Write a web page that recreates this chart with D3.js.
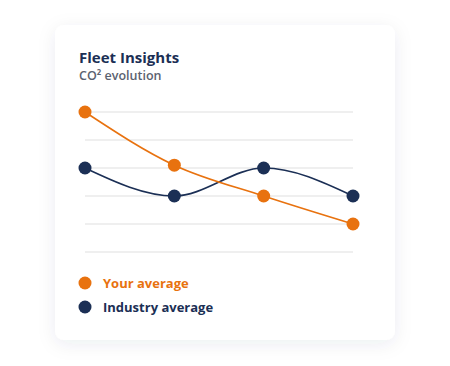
<!DOCTYPE html>
<html>
<head>
<meta charset="utf-8">
<script src="https://cdn.jsdelivr.net/npm/d3@7"></script>
<style>
  html, body { margin: 0; padding: 0; background: #ffffff; }
  svg { display: block; font-family: "Open Sans", "Noto Sans", sans-serif; }
</style>
</head>
<body>
<script>
// chart data
var periods = ["P1", "P2", "P3", "P4"];
var yourAverage = [5, 3.1, 2, 1];
var industryAverage = [3, 2, 3, 2];
var gridTicks = [0, 1, 2, 3, 4, 5];
var seriesNames = ["Your average", "Industry average"];
var seriesColors = ["#e8720f", "#1b2f55"];

var width = 450,
    height = 366;

var svg = d3.select("body")
    .append("svg")
    .attr("width", width)
    .attr("height", height);

//soft card shadow
var defs = svg.append("defs");
var filter = defs.append("filter")
    .attr("id", "shadow")
    .attr("x", "-20%").attr("y", "-20%")
    .attr("width", "140%").attr("height", "140%");
filter.append("feDropShadow")
    .attr("dx", 0).attr("dy", 4)
    .attr("stdDeviation", 9)
    .attr("flood-color", "#1b2f55")
    .attr("flood-opacity", 0.08);

svg.append("rect")
    .attr("x", 55).attr("y", 25)
    .attr("width", 340).attr("height", 315)
    .attr("rx", 9)
    .attr("fill", "#ffffff")
    .attr("filter", "url(#shadow)");

//title block
svg.append("text")
    .attr("x", 79).attr("y", 63)
    .attr("font-size", 15)
    .attr("font-weight", 700)
    .attr("fill", "#1b2f55")
    .text("Fleet Insights");

svg.append("text")
    .attr("x", 79).attr("y", 80)
    .attr("font-size", 12.5)
    .attr("font-weight", 600)
    .attr("fill", "#5b6270")
    .text("CO² evolution");

//scales
var x = d3.scalePoint()
    .domain(periods)
    .range([85, 353]);

var y = d3.scaleLinear()
    .domain([0, 5])
    .range([252, 112]);

//gridlines
svg.append("g")
    .selectAll("line")
    .data(gridTicks)
    .enter()
    .append("line")
    .attr("x1", 85).attr("x2", 353)
    .attr("y1", function(d){ return y(d); })
    .attr("y2", function(d){ return y(d); })
    .attr("stroke", "#efefef")
    .attr("stroke-width", 2);

var line = d3.line()
    .x(function(d, i){ return x(periods[i]); })
    .y(function(d){ return y(d); })
    .curve(d3.curveMonotoneX);

var allSeries = [industryAverage, yourAverage];
var allColors = [seriesColors[1], seriesColors[0]];

allSeries.forEach(function(values, s){
    svg.append("path")
        .datum(values)
        .attr("fill", "none")
        .attr("stroke", allColors[s])
        .attr("stroke-width", 1.6)
        .attr("d", line);
});

allSeries.forEach(function(values, s){
    svg.append("g")
        .selectAll("circle")
        .data(values)
        .enter()
        .append("circle")
        .attr("cx", function(d, i){ return x(periods[i]); })
        .attr("cy", function(d){ return y(d); })
        .attr("r", 6.5)
        .attr("fill", allColors[s]);
});

//legend
var legend = svg.append("g")
    .selectAll("g")
    .data(seriesNames)
    .enter()
    .append("g")
    .attr("transform", function(d, i){ return "translate(85," + (283 + i * 24) + ")"; });

legend.append("circle")
    .attr("r", 6.5)
    .attr("fill", function(d, i){ return seriesColors[i]; });

legend.append("text")
    .attr("x", 18)
    .attr("y", 5)
    .attr("font-size", 13)
    .attr("font-weight", 700)
    .attr("fill", function(d, i){ return seriesColors[i]; })
    .text(function(d){ return d; });
</script>
</body>
</html>
